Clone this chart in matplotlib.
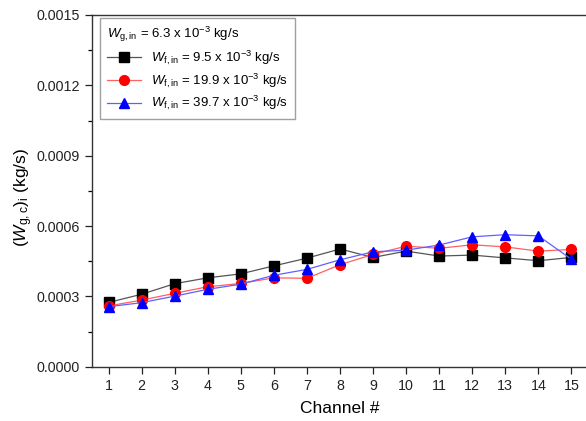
import matplotlib
matplotlib.use("Agg")
import matplotlib.pyplot as plt
from matplotlib.ticker import MultipleLocator, AutoMinorLocator

plt.rcParams['font.family'] = ['Liberation Sans', 'DejaVu Sans']
plt.rcParams['mathtext.fontset'] = 'custom'
plt.rcParams['mathtext.rm'] = 'Liberation Sans'
plt.rcParams['mathtext.it'] = 'Liberation Sans:italic'
plt.rcParams['mathtext.bf'] = 'Liberation Sans:bold'

channels = list(range(1, 16))
w_f_95 = [0.000274, 0.000309, 0.000354, 0.000379, 0.000396, 0.000430, 0.000463, 0.000502,
          0.000466, 0.000493, 0.000472, 0.000476, 0.000464, 0.000452, 0.000466]
w_f_199 = [0.000259, 0.000284, 0.000313, 0.000341, 0.000355, 0.000379, 0.000377, 0.000435,
           0.000479, 0.000514, 0.000505, 0.000520, 0.000511, 0.000493, 0.000500]
w_f_397 = [0.000256, 0.000273, 0.000301, 0.000330, 0.000352, 0.000390, 0.000415, 0.000456,
           0.000490, 0.000497, 0.000519, 0.000554, 0.000563, 0.000558, 0.000458]
labels = [r"$W_{\mathrm{f,in}}$ = 9.5 x 10$^{-3}$ kg/s",
          r"$W_{\mathrm{f,in}}$ = 19.9 x 10$^{-3}$ kg/s",
          r"$W_{\mathrm{f,in}}$ = 39.7 x 10$^{-3}$ kg/s"]
legend_title = r"$W_{\mathrm{g,in}}$ = 6.3 x 10$^{-3}$ kg/s"

fig = plt.figure(figsize=(5.86, 4.21), dpi=100)
ax = fig.add_axes([92/586, (421-366.7)/421, (588-92)/586, (366.7-15)/421])

ax.plot(channels, w_f_95, color='#555555', lw=0.9, marker='s', ms=6.5,
        mfc='black', mec='black', label=labels[0])
ax.plot(channels, w_f_199, color='#ff6060', lw=0.9, marker='o', ms=7,
        mfc='red', mec='red', label=labels[1])
ax.plot(channels, w_f_397, color='#6060ff', lw=0.9, marker='^', ms=7.5,
        mfc='blue', mec='blue', label=labels[2])

ax.set_xlim(0.5, 15.5)
ax.set_ylim(0, 0.0015)
ax.set_xticks(channels)
ax.yaxis.set_major_locator(MultipleLocator(0.0003))
ax.yaxis.set_minor_locator(AutoMinorLocator(2))
ax.yaxis.set_major_formatter(matplotlib.ticker.FormatStrFormatter('%.4f'))
ax.tick_params(axis='both', which='major', direction='out', length=5, width=0.9,
               labelsize=10.3, colors='#222222')
ax.tick_params(axis='y', which='minor', direction='out', length=3, width=0.9)
for s in ax.spines.values():
    s.set_linewidth(1.0)
    s.set_color('#333333')

ax.set_xlabel("Channel #", fontsize=12.5, labelpad=6)
ax.set_ylabel(r"$(W_{\mathrm{g,c}})_{\mathrm{i}}$ (kg/s)", fontsize=12.5, labelpad=1)
ax.yaxis.label.set_y(0.48)

leg = ax.legend(loc='upper left', title=legend_title, alignment='left',
                fontsize=9.5, title_fontsize=9.5, frameon=True, fancybox=False,
                edgecolor='#888888', borderpad=0.5, handlelength=2.6,
                labelspacing=0.35, borderaxespad=0,
                bbox_to_anchor=(8/496, 1 - 3/351.7))
leg.get_frame().set_linewidth(1.0)

fig.savefig("out.png", dpi=100)
